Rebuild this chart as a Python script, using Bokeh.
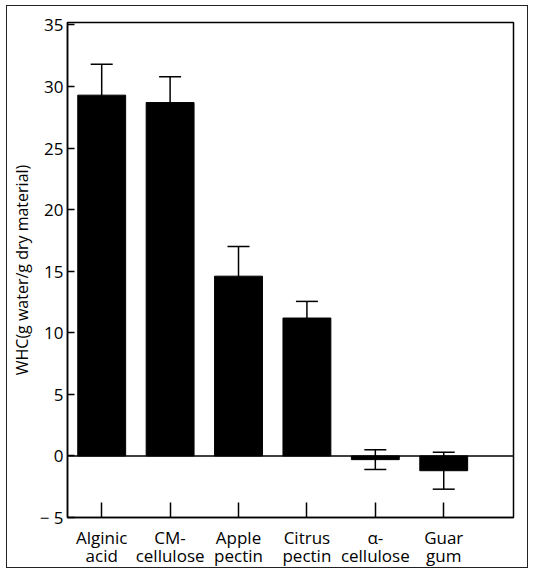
import math
from bokeh.plotting import figure
from bokeh.models import Range1d, FixedTicker, Span, Whisker, ColumnDataSource, TeeHead
from bokeh.embed import file_html
from bokeh.resources import INLINE

# ---- data ----
categories = ["Alginic\nacid", "CM-\ncellulose", "Apple\npectin", "Citrus\npectin", "α-\ncellulose", "Guar\ngum"]
whc_values = [29.3, 28.7, 14.6, 11.2, -0.3, -1.2]
whc_errors = [2.5, 2.1, 2.4, 1.35, 0.8, 1.5]
y_ticks = [-5, 0, 5, 10, 15, 20, 25, 30, 35]
y_label = "WHC(g water/g dry material)"

xs = list(range(1, len(categories) + 1))
src = ColumnDataSource(dict(
    x=xs,
    top=whc_values,
    upper=[v + e for v, e in zip(whc_values, whc_errors)],
    lower=[v - e for v, e in zip(whc_values, whc_errors)],
))

FONT = "Open Sans"

p = figure(width=522, height=563, output_backend="svg", toolbar_location=None,
           x_range=Range1d(0.5, 7.02), y_range=Range1d(-5, 35.2),
           min_border_left=56, min_border_top=16, min_border_right=16, min_border_bottom=50)
p.styles = {"border": "1.5px solid #222", "margin-left": "6px", "margin-top": "5px"}

p.grid.visible = False
p.outline_line_color = "black"
p.outline_line_width = 1.5
p.background_fill_color = "white"
p.border_fill_color = "white"

p.vbar(x="x", top="top", bottom=0, width=0.7, source=src,
       fill_color="black", line_color="black")

zero = Span(location=0, dimension="width", line_color="black", line_width=1.5)
p.add_layout(zero)

w = Whisker(base="x", upper="upper", lower="lower", source=src,
            line_color="black", line_width=1.5,
            upper_head=TeeHead(size=22, line_color="black", line_width=1.5),
            lower_head=TeeHead(size=22, line_color="black", line_width=1.5))
p.add_layout(w)

# y axis
ya = p.yaxis[0]
ya.ticker = FixedTicker(ticks=y_ticks)
ya.major_label_overrides = {-5: "− 5"}
ya.major_tick_in = 7
ya.major_tick_out = 0
ya.minor_tick_line_color = None
ya.axis_line_color = "black"
ya.axis_line_width = 1.5
ya.major_tick_line_width = 1.5
ya.major_label_text_font = FONT
ya.major_label_text_font_size = "17px"
ya.major_label_text_color = "black"
ya.major_label_standoff = 4
ya.axis_label = y_label
ya.axis_label_text_font = FONT
ya.axis_label_text_font_style = "normal"
ya.axis_label_text_font_size = "16px"
ya.axis_label_text_color = "black"
ya.axis_label_standoff = 4

# x axis
xa = p.xaxis[0]
xa.ticker = FixedTicker(ticks=xs)
xa.major_label_overrides = {x: c for x, c in zip(xs, categories)}
xa.major_tick_in = 15
xa.major_tick_out = 0
xa.minor_tick_line_color = None
xa.axis_line_color = "black"
xa.axis_line_width = 1.5
xa.major_tick_line_width = 1.5
xa.major_label_text_font = FONT
xa.major_label_text_font_size = "17px"
xa.major_label_text_color = "black"
xa.major_label_text_line_height = 0.8
xa.major_label_standoff = 8

open("out.html", "w").write(file_html(p, INLINE))
